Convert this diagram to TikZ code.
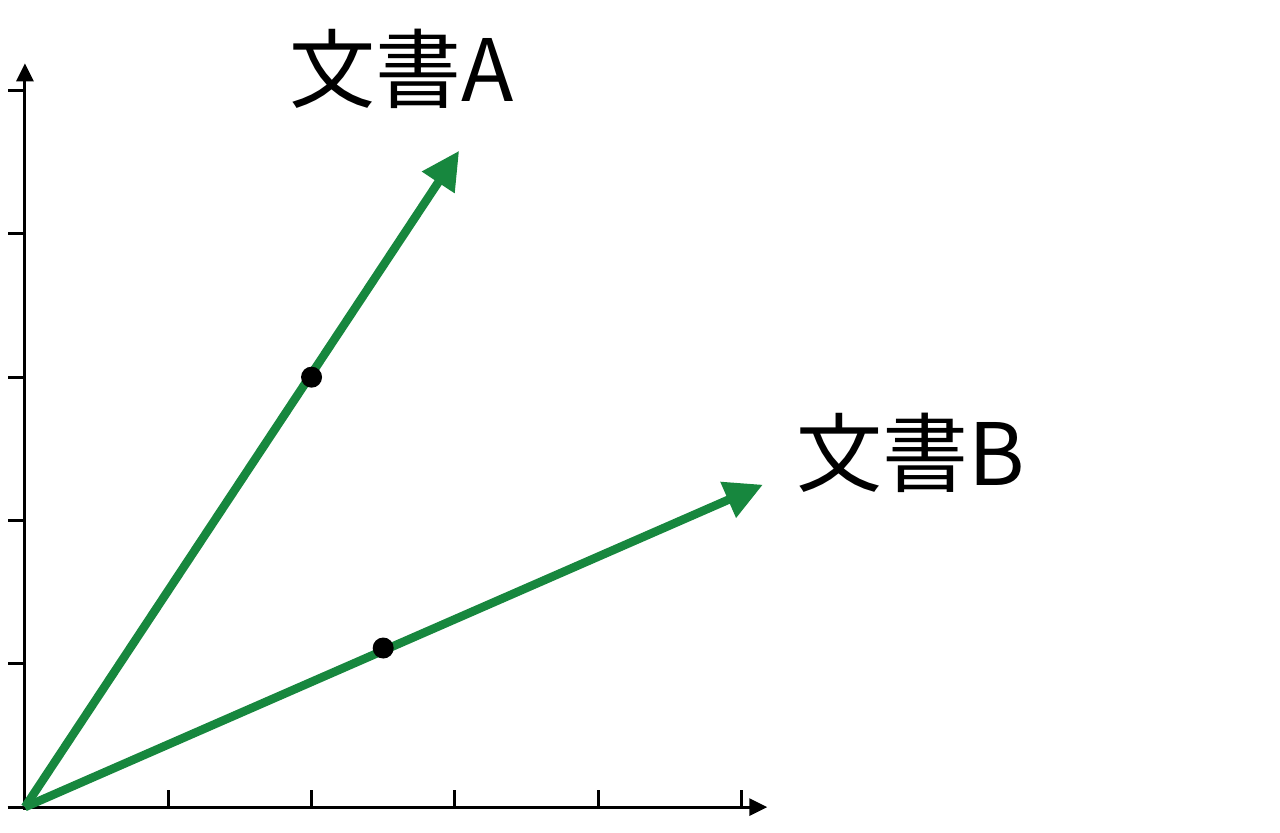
\documentclass[tikz,border=0pt]{standalone}
\usepackage{fontspec}
\newfontfamily\cjk{Noto Sans CJK JP}
\usepackage{tikz}
\usetikzlibrary{arrows.meta,positioning}
\definecolor{vecgreen}{RGB}{23,135,62}

\begin{document}
\begin{tikzpicture}[x=143.3pt,y=143.3pt]
	\tikzset{axis/.style={line width=3pt,-{Triangle[length=18pt,width=17pt]}},
		tick/.style={line width=2.8pt},
		vec/.style={line width=8.5pt,vecgreen,-{Triangle[length=38pt,width=37pt]}},
		pt/.style={circle,fill=black,inner sep=0pt,minimum size=21pt},
		doc/.style={font=\cjk\fontsize{86pt}{92pt}\selectfont,inner sep=0pt}}
	\useasboundingbox (-0.174,-0.174) rectangle (8.758,5.632);
	\coordinate (o) at (0,0);
	\coordinate (xend) at (5.18,0);
	\coordinate (yend) at (0,5.19);
	\coordinate (xstart) at (-0.12,0);
	\coordinate (ystart) at (0,-0.02);
	\draw[axis] (xstart) -- (xend);
	\draw[axis] (ystart) -- (yend);
	\foreach \i in {1,...,5} {
		\draw[tick] (\i,0) -- (\i,0.12);
		\draw[tick] (0,\i) -- (-0.12,\i);
	}
	\coordinate (a) at (3.03,4.58);
	\coordinate (b) at (5.15,2.25);
	\draw[vec] (o) -- (a);
	\draw[vec] (o) -- (b);
	\node[pt] (pa) at (2,3) {};
	\node[pt] (pb) at (2.5,1.11) {};
	\node[doc] (da) at (2.63,5.15) {文書A};
	\node[doc] (db) at (6.18,2.47) {文書B};
\end{tikzpicture}
\end{document}
